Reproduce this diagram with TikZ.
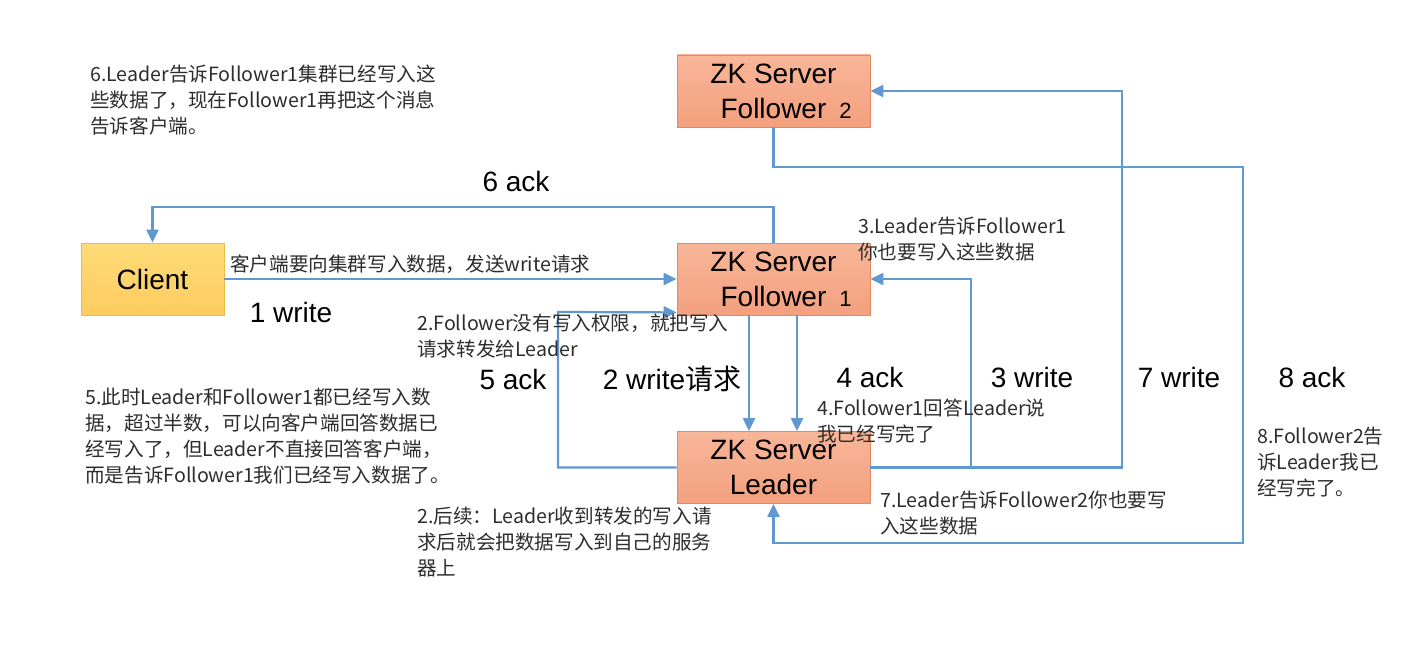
\documentclass[tikz,border=0pt]{standalone}
\usepackage{fontspec}
\setmainfont{Liberation Sans}
\newfontfamily\cjk{Noto Sans CJK SC}
\usetikzlibrary{arrows.meta}
\definecolor{linec}{RGB}{96,152,208}
\definecolor{boxtop}{RGB}{248,182,152}
\definecolor{boxbot}{RGB}{243,160,126}
\definecolor{boxdraw}{RGB}{226,138,100}
\definecolor{cltop}{RGB}{255,219,120}
\definecolor{clbot}{RGB}{253,204,96}
\definecolor{cldraw}{RGB}{240,186,72}
\definecolor{notec}{RGB}{45,45,45}
\begin{document}
\begin{tikzpicture}[x=1pt,y=-1pt,
  conn/.style={draw=linec, line width=2.2pt, -{Triangle[length=13pt,width=12pt]}},
  box/.style={rectangle, minimum width=193pt, minimum height=72pt, draw=boxdraw, line width=0.8pt,
    top color=boxtop, bottom color=boxbot, font=\fontsize{28}{35}\selectfont, align=center, inner sep=0pt},
  clientbox/.style={box, minimum width=143pt, draw=cldraw, top color=cltop, bottom color=clbot},
  note/.style={anchor=west, align=left, inner sep=0pt, font=\cjk\fontsize{19.6}{26}\selectfont, text=notec},
  lab/.style={font=\fontsize{28}{30}\selectfont, inner sep=0pt, anchor=center}]
\fill[white] (0,0) rectangle (1405,669);
\useasboundingbox (0,0) rectangle (1405,669);

% boxes
\node[box] (f2) at (773.5,91) {ZK Server\\Follower\rlap{\hspace{13pt}{\fontsize{22}{22}\selectfont 2}}};
\node[clientbox] (client) at (152.5,279) {Client};
\node[box] (f1) at (773.5,279) {ZK Server\\Follower\rlap{\hspace{13pt}{\fontsize{22}{22}\selectfont 1}}};
\node[box] (leader) at (773.5,467.5) {ZK Server\\Leader};

% connectors
\draw[conn] (client) -- (f1);
\draw[conn] (f1.north) -- ++(0,-36) -| (client.north);
\draw[conn] (f2.south) |- (1243,167) -- (1243,543) -| (leader.south);
\draw[conn] (leader.east) -| (1122,91) -- (f2.east);
\draw[conn] (leader.east) -| (971,279) -- (f1.east);
\draw[conn] (leader.west) -| (558,312) -- ([yshift=3pt]f1.south west);
\draw[conn] ([xshift=-24.5pt]f1.south) -- ([xshift=-24.5pt]leader.north);
\draw[conn] ([xshift=23.5pt]f1.south) -- ([xshift=23.5pt]leader.north);

% big labels
\node[lab] (l6) at (516,181) {6 ack};
\node[lab] (l1) at (291,312) {1 write};
\node[lab] (l5) at (513,379) {5 ack};
\node[lab] (l2) at (672,379) {2 write{\cjk 请求}};
\node[lab] (l4) at (870,377) {4 ack};
\node[lab] (l3) at (1032,377) {3 write};
\node[lab] (l7) at (1179,377) {7 write};
\node[lab] (l8) at (1312,377) {8 ack};

% notes
\node[note] (n6) at (90,100.5) {6.Leader告诉Follower1集群已经写入这\\些数据了，现在Follower1再把这个消息\\告诉客户端。};
\node[note] (n1) at (230,264) {客户端要向集群写入数据，发送write请求};
\node[note] (n3) at (858,239) {3.Leader告诉Follower1\\你也要写入这些数据};
\node[note] (n2) at (417,336) {2.Follower没有写入权限，就把写入\\请求转发给Leader};
\node[note] (n5) at (85,436) {5.此时Leader和Follower1都已经写入数\\据，超过半数，可以向客户端回答数据已\\经写入了，但Leader不直接回答客户端，\\而是告诉Follower1我们已经写入数据了。};
\node[note] (n4) at (817,421) {4.Follower1回答Leader说\\我已经写完了};
\node[note] (n2b) at (417,542) {2.后续：Leader收到转发的写入请\\求后就会把数据写入到自己的服务\\器上};
\node[note] (n7) at (880,513) {7.Leader告诉Follower2你也要写\\入这些数据};
\node[note] (n8) at (1257,462.5) {8.Follower2告\\诉Leader我已\\经写完了。};
\end{tikzpicture}
\end{document}
